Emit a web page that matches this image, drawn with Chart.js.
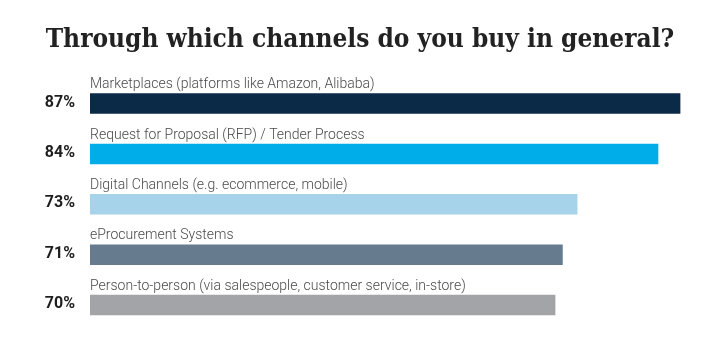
<!DOCTYPE html>
<html>
<head>
<meta charset="utf-8">
<script src="https://cdn.jsdelivr.net/npm/chart.js@4"></script>
<style>
  html, body { margin: 0; padding: 0; background: #ffffff; }
  #wrap { width: 712px; height: 358px; }
</style>
</head>
<body>
<div id="wrap"><canvas id="c" width="712" height="358"></canvas></div>
<script>
const titleText = 'Through which channels do you buy in general?';
const categories = [
  'Marketplaces (platforms like Amazon, Alibaba)',
  'Request for Proposal (RFP) / Tender Process',
  'Digital Channels (e.g. ecommerce, mobile)',
  'eProcurement Systems',
  'Person-to-person (via salespeople, customer service, in-store)'
];
const values = [87, 84, 73, 71, 70];
const barColors = ['#0b2a48', '#00ade8', '#a6d3ea', '#667c8e', '#a2a4a7'];

const labelPlugin = {
  id: 'barLabels',
  afterDatasetsDraw(chart) {
    const ctx = chart.ctx;
    const meta = chart.getDatasetMeta(0);
    const left = chart.chartArea.left;
    ctx.save();
    meta.data.forEach((bar, i) => {
      const p = bar.getProps(['x', 'y', 'height'], true);
      const top = p.y - p.height / 2;
      ctx.font = '300 14px Roboto, "Liberation Sans", sans-serif';
      ctx.fillStyle = '#4a4a4a';
      ctx.textAlign = 'left';
      ctx.textBaseline = 'alphabetic';
      ctx.fillText(categories[i], left, top - 5);
      ctx.font = 'bold 16px Roboto, "Liberation Sans", sans-serif';
      ctx.fillStyle = '#1e1e1e';
      ctx.textAlign = 'right';
      ctx.textBaseline = 'middle';
      ctx.fillText(values[i] + '%', left - 15, p.y - 1);
    });
    ctx.restore();
  }
};

new Chart(document.getElementById('c'), {
  type: 'bar',
  data: {
    labels: categories,
    datasets: [{
      data: values,
      backgroundColor: barColors,
      borderWidth: 0,
      categoryPercentage: 1,
      barPercentage: 0.407
    }]
  },
  options: {
    indexAxis: 'y',
    responsive: false,
    animation: false,
    devicePixelRatio: 1,
    layout: { padding: { left: 8, right: 0, top: 0, bottom: 27.7 } },
    scales: {
      x: { display: false, min: 6.7, max: 91.3 },
      y: {
        display: true,
        grid: { display: false },
        border: { display: false },
        ticks: { display: false },
        afterFit(scale) { scale.width = 82; }
      }
    },
    plugins: {
      legend: { display: false },
      tooltip: { enabled: false },
      title: {
        display: true,
        text: titleText,
        color: '#222222',
        font: { family: '"DejaVu Serif Condensed", "DejaVu Serif", serif', size: 26, weight: 'bold', lineHeight: 1.2 },
        padding: { top: 24.4, bottom: 22.7 }
      }
    }
  },
  plugins: [labelPlugin]
});
</script>
</body>
</html>
